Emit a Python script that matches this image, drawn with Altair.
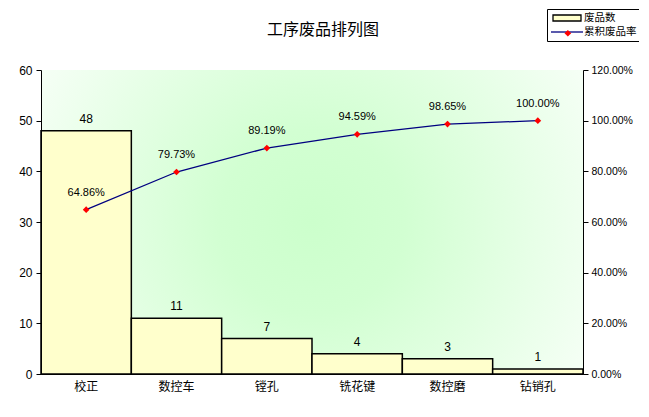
import altair as alt
import pandas as pd

cats = ["校正", "数控车", "镗孔", "铣花键", "数控磨", "钻销孔"]
counts = [48, 11, 7, 4, 3, 1]
cum = [0.6486, 0.7973, 0.8919, 0.9459, 0.9865, 1.0]
left_ticks = [0, 10, 20, 30, 40, 50, 60]
right_ticks = [0, 0.2, 0.4, 0.6, 0.8, 1.0, 1.2]
series = ["废品数", "累积废品率"]

df = pd.DataFrame({"cat": cats, "count": counts, "cum": cum})

CJK = "Noto Sans CJK SC"
LAT = "Liberation Sans"
W, H = 542, 304
LX, LY = 506, -61

x = alt.X("cat:N", sort=cats, title=None,
          scale=alt.Scale(paddingInner=0, paddingOuter=0),
          axis=alt.Axis(labelAngle=0, ticks=False, domain=True, domainColor="black",
                        labelFont=CJK, labelFontSize=12, labelColor="black",
                        labelPadding=7, zindex=1))

common = dict(title=None, orient="none", padding=3, symbolSize=100, symbolOffset=11,
              labelFont=CJK, labelFontSize=10.5, labelColor="black", labelOffset=11,
              symbolStrokeWidth=1.3, symbolOpacity=1)

leg_box = alt.Legend(legendX=LX, legendY=LY, strokeColor="black", fillColor="white",
                     symbolType="M-3.2,0H3.2", zindex=1, **common)
leg_bar = alt.Legend(legendX=LX, legendY=LY, symbolType="M-2.8,-0.6H2.8V0.6H-2.8Z",
                     symbolStrokeColor="black", labelOpacity=0, zindex=2, **common)
common_pt = dict(common)
common_pt.update(symbolSize=45, symbolOffset=12.6)
leg_pt = alt.Legend(legendX=LX, legendY=LY + 16, symbolType="diamond",
                    symbolFillColor="#FF0000", symbolStrokeColor="#FF0000",
                    labelOpacity=0, zindex=2, **common_pt)

bg = alt.Chart(alt.Data(values=[{}])).mark_rect(
    fill={"gradient": "radial", "x1": 0.5, "y1": 0.5, "x2": 0.5, "y2": 0.5,
          "r1": 0, "r2": 0.68,
          "stops": [{"offset": 0, "color": "#CCFFCC"},
                    {"offset": 0.25, "color": "#D2FFD2"},
                    {"offset": 1, "color": "#FFFFFF"}]}
).encode(x=alt.value(0), x2=alt.value("width"), y=alt.value(0), y2=alt.value("height"))

base = alt.Chart(df)

y_left = alt.Y("count:Q", title=None,
               scale=alt.Scale(domain=[0, 60], nice=False),
               axis=alt.Axis(orient="left", values=left_ticks, grid=False,
                             domainColor="black", tickColor="black", tickSize=5,
                             labelFont=LAT, labelFontSize=12, labelColor="black",
                             labelPadding=4, zindex=1))

bars = base.transform_calculate(s="'废品数'").mark_bar(
    stroke="black", strokeWidth=1.5, fillOpacity=1
).encode(x=x, y=y_left,
         fill=alt.Fill("s:N", scale=alt.Scale(domain=["废品数"], range=["#FFFFCC"]), legend=leg_bar))

bar_text = base.mark_text(baseline="bottom", dy=-5, font=LAT, fontSize=12, color="black").encode(
    x=x, y=y_left, text=alt.Text("count:Q"))

left = alt.layer(bars, bar_text)

y_right = alt.Y("cum:Q", title=None,
                scale=alt.Scale(domain=[0, 1.2], nice=False),
                axis=alt.Axis(orient="right", values=right_ticks, format=".2%", grid=False,
                              domainColor="black", tickColor="black", tickSize=5,
                              labelFont=LAT, labelFontSize=10.5, labelColor="black",
                              labelPadding=3, zindex=1))

line = base.transform_calculate(s="'累积废品率'").mark_line(strokeWidth=1.3).encode(
    x=x, y=y_right,
    stroke=alt.Stroke("s:N", scale=alt.Scale(domain=series, range=["transparent", "#000080"]),
                      legend=leg_box))

pts = base.transform_calculate(s="'累积废品率'").mark_point(
    filled=True, color="#FF0000", size=45, opacity=1
).encode(x=x, y=y_right,
         shape=alt.Shape("s:N", scale=alt.Scale(domain=["累积废品率"], range=["diamond"]),
                         legend=leg_pt))

line_text = base.mark_text(baseline="bottom", dy=-12, font=LAT, fontSize=11, color="black").encode(
    x=x, y=y_right, text=alt.Text("cum:Q", format=".2%"))

right = alt.layer(line, pts, line_text)

chart = alt.layer(bg, left, right).resolve_scale(y="independent").properties(
    width=W, height=H,
    title=alt.TitleParams("工序废品排列图", font=CJK, fontSize=16, fontWeight="normal",
                          color="black", anchor="middle", offset=-29, dx=11),
    autosize=alt.AutoSizeParams(type="none"),
    padding={"left": 33, "top": 62, "right": 56, "bottom": 30},
).configure_view(stroke="#808080", strokeWidth=1).configure(background="white")

chart.save("out.html", embed_options={"renderer": "svg", "actions": False})
